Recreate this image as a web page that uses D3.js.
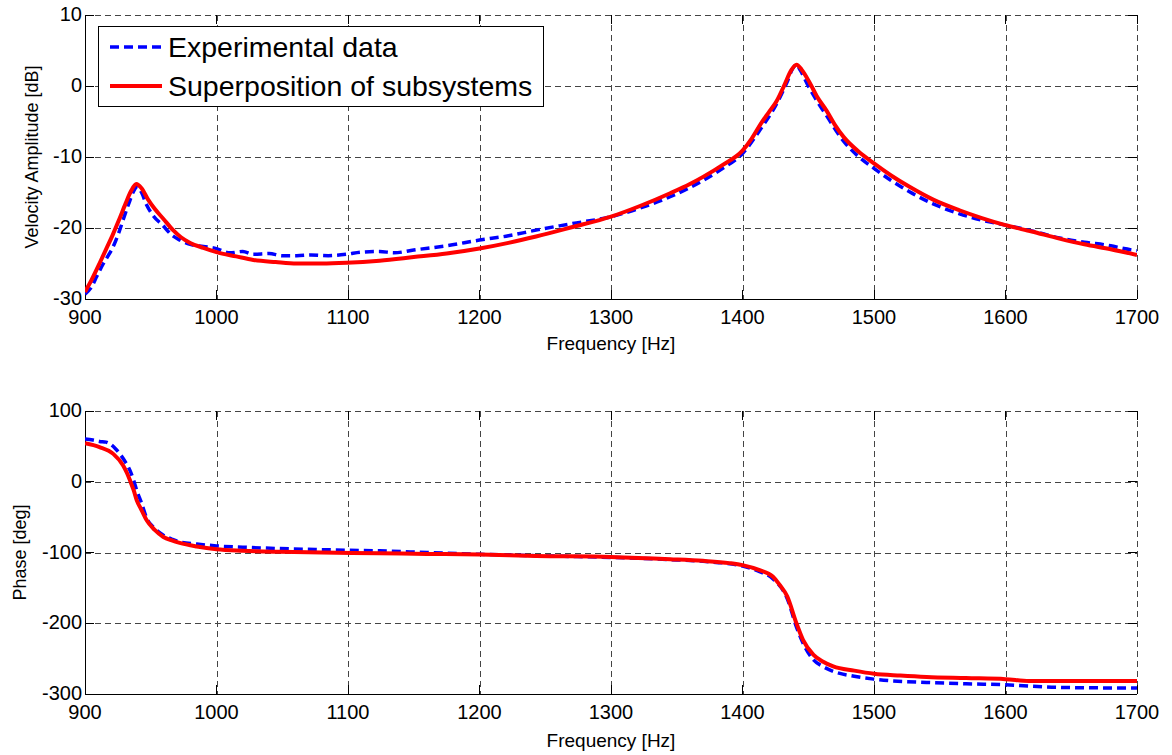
<!DOCTYPE html>
<html lang="en">
<head>
    <meta charset="UTF-8">
    <title>Velocity Amplitude and Phase</title>
    <script src="https://d3js.org/d3.v7.min.js"></script>
    <style>
        body { margin: 0; background: #fff; }
        text { font-family: "Liberation Sans", Arial, Helvetica, sans-serif; fill: #000; }
        .grid line { stroke: #444; stroke-width: 1; stroke-dasharray: 6,4; shape-rendering: crispEdges; }
        .axisline { stroke: #000; stroke-width: 1; shape-rendering: crispEdges; }
        .tick-mark { stroke: #000; stroke-width: 1; shape-rendering: crispEdges; }
        .exp { fill: none; stroke: #0000ff; stroke-width: 3.5; stroke-dasharray: 9,5; }
        .sup { fill: none; stroke: #ff0000; stroke-width: 4; }
    </style>
</head>
<body>
<div id="chart"></div>
<script>
    // ---- data ----
    const xTicks = [900, 1000, 1100, 1200, 1300, 1400, 1500, 1600, 1700];
    const ampTicks = [-30, -20, -10, 0, 10];
    const phaseTicks = [-300, -200, -100, 0, 100];

    // amplitude [dB], superposition of subsystems
    const ampSup = [
        [900, -29.0], [905, -27.3], [911, -25.0], [916, -23.0], [921, -21.0], [926, -18.8],
        [931, -16.5], [935, -14.8], [939, -13.8], [943, -14.4], [948, -16.0], [953, -17.3],
        [960, -18.8], [967, -20.3], [973, -21.3], [980, -22.1], [990, -22.8], [1000, -23.4],
        [1015, -24.0], [1028, -24.5], [1045, -24.8], [1061, -25.0], [1080, -25.0], [1099, -24.9],
        [1124, -24.6], [1150, -24.1], [1175, -23.6], [1200, -22.9], [1222, -22.1], [1243, -21.2],
        [1270, -19.9], [1300, -18.4], [1322, -16.9], [1345, -15.1], [1360, -13.8], [1370, -12.8],
        [1385, -11.1], [1400, -9.1], [1407, -7.4], [1414, -5.3], [1420, -3.7], [1426, -2.1],
        [1432, 0.2], [1437, 2.2], [1441, 3.0], [1445, 2.3], [1451, 0.5], [1457, -1.6],
        [1464, -3.5], [1470, -5.4], [1477, -7.2], [1488, -9.2], [1500, -10.9], [1513, -12.6],
        [1527, -14.2], [1545, -16.0], [1565, -17.5], [1582, -18.6], [1600, -19.6], [1620, -20.5],
        [1641, -21.5], [1660, -22.3], [1680, -23.0], [1700, -23.8]
    ];

    // amplitude [dB], experimental data
    const ampExp = [
        [900, -29.3], [905, -28.3], [909, -26.8], [914, -25.0], [918, -23.8], [922, -22.4],
        [926, -20.5], [930, -18.3], [934, -16.2], [937, -14.8], [940, -14.2], [943, -15.0],
        [947, -16.8], [952, -18.3], [959, -19.6], [966, -21.0], [972, -21.7], [980, -22.3],
        [990, -22.6], [1000, -22.9], [1010, -23.5], [1020, -23.3], [1028, -23.7], [1040, -23.6],
        [1050, -23.9], [1061, -23.9], [1072, -23.8], [1085, -23.9], [1099, -23.7], [1110, -23.4],
        [1124, -23.3], [1135, -23.5], [1150, -23.1], [1175, -22.5], [1200, -21.7], [1222, -21.1],
        [1243, -20.3], [1270, -19.4], [1300, -18.4], [1322, -17.2], [1345, -15.6], [1370, -13.3],
        [1385, -11.6], [1400, -9.5], [1414, -6.0], [1426, -2.5], [1434, 0.6], [1438, 2.4],
        [1441, 3.0], [1444, 2.2], [1450, 0.0], [1457, -2.2], [1464, -4.2], [1477, -7.8],
        [1488, -9.9], [1500, -11.6], [1513, -13.3], [1527, -14.9], [1545, -16.6], [1565, -18.0],
        [1582, -18.9], [1600, -19.6], [1620, -20.4], [1641, -21.4], [1660, -22.0], [1680, -22.5],
        [1690, -22.9], [1700, -23.2]
    ];

    // phase [deg], superposition of subsystems
    const phaseSup = [
        [900, 54.4], [911, 49], [921.5, 39.4], [929, 23], [932, 12], [934.2, 2], [937, -12],
        [939.3, -26], [943, -40], [946.9, -54.5], [953, -68], [959.6, -78], [966, -83],
        [972, -86.5], [985, -91.5], [1000, -95.4], [1020, -97.5], [1048, -99], [1080, -100],
        [1124, -101], [1160, -102], [1200, -102.8], [1243, -104.8], [1300, -106.2], [1345, -109.4],
        [1370, -111.8], [1390, -115], [1400, -117.9], [1413, -125], [1423, -134], [1428, -145],
        [1434, -162], [1441, -200], [1446, -223.5], [1454, -244.6], [1461, -254], [1469, -261],
        [1485, -267], [1500, -271.4], [1520, -274], [1540, -276], [1570, -277.5], [1600, -279],
        [1618, -281.7], [1700, -281.7]
    ];

    // phase [deg], experimental data
    const phaseExp = [
        [900, 60.5], [906, 59], [911, 57], [916, 56], [919, 53.5], [923, 47], [926.5, 39.4],
        [930, 30], [934.2, 16], [937, 2], [939.3, -12], [943, -30], [947, -52], [953, -66],
        [959.6, -75.6], [966, -81], [972, -85], [985, -88], [1000, -90.7], [1020, -92.5],
        [1048, -94.4], [1080, -96], [1124, -97.7], [1160, -100], [1200, -102.5], [1243, -104.5],
        [1300, -107], [1345, -110], [1370, -112.5], [1400, -119], [1413, -127], [1423, -137],
        [1434, -165], [1441, -205], [1446, -228], [1454, -251.7], [1461, -261], [1469, -268],
        [1485, -275], [1500, -279], [1540, -283.7], [1570, -285.5], [1600, -287], [1641, -290.7],
        [1700, -291.6]
    ];

    const W = 1172, H = 755;
    const left = 85, right = 1137;

    const svg = d3.select("#chart").append("svg")
        .attr("width", W).attr("height", H);

    const x = d3.scaleLinear().domain([900, 1700]).range([left, right]);

    function panel(id, yDomain, yRange, ticks, series, yLabel, yLabelX, xLabelY) {
        const y = d3.scaleLinear().domain(yDomain).range(yRange);
        const top = yRange[1], bottom = yRange[0];
        const g = svg.append("g");

        g.append("defs").append("clipPath").attr("id", id)
            .append("rect").attr("x", left).attr("y", top)
            .attr("width", right - left).attr("height", bottom - top);

        // dashed grid
        const grid = g.append("g").attr("class", "grid");
        grid.selectAll("line.v").data(xTicks.slice(1)).join("line")
            .attr("class", "v")
            .attr("x1", d => Math.round(x(d)) + 0.5).attr("x2", d => Math.round(x(d)) + 0.5)
            .attr("y1", top).attr("y2", bottom);
        grid.selectAll("line.h").data(ticks.slice(1)).join("line")
            .attr("class", "h")
            .attr("x1", left).attr("x2", right)
            .attr("y1", d => Math.round(y(d)) + 0.5).attr("y2", d => Math.round(y(d)) + 0.5);

        // inward tick marks
        const tl = 9;
        g.selectAll("line.xt").data(xTicks).join("line").attr("class", "tick-mark")
            .attr("x1", d => x(d)).attr("x2", d => x(d))
            .attr("y1", bottom).attr("y2", bottom - tl);
        g.selectAll("line.xt2").data(xTicks).join("line").attr("class", "tick-mark")
            .attr("x1", d => x(d)).attr("x2", d => x(d))
            .attr("y1", top).attr("y2", top + tl);
        g.selectAll("line.yt").data(ticks).join("line").attr("class", "tick-mark")
            .attr("x1", left).attr("x2", left + tl)
            .attr("y1", d => y(d)).attr("y2", d => y(d));
        g.selectAll("line.yt2").data(ticks).join("line").attr("class", "tick-mark")
            .attr("x1", right).attr("x2", right - tl)
            .attr("y1", d => y(d)).attr("y2", d => y(d));

        // left and bottom axis lines
        g.append("line").attr("class", "axisline")
            .attr("x1", left + 0.5).attr("x2", left + 0.5).attr("y1", top).attr("y2", bottom);
        g.append("line").attr("class", "axisline")
            .attr("x1", left).attr("x2", right).attr("y1", bottom + 0.5).attr("y2", bottom + 0.5);

        // tick labels
        g.selectAll("text.xl").data(xTicks).join("text")
            .attr("x", d => x(d)).attr("y", bottom + 25)
            .attr("text-anchor", "middle").attr("font-size", 20)
            .text(d => d);
        g.selectAll("text.yl").data(ticks).join("text")
            .attr("x", left - 3).attr("y", d => y(d) + 6)
            .attr("text-anchor", "end").attr("font-size", 20)
            .text(d => d);

        // curves
        const line = d3.line().x(d => x(d[0])).y(d => y(d[1])).curve(d3.curveMonotoneX);
        const curves = g.append("g").attr("clip-path", `url(#${id})`);
        curves.append("path").datum(series[0]).attr("class", "exp").attr("d", line);
        curves.append("path").datum(series[1]).attr("class", "sup").attr("d", line);

        // axis labels
        g.append("text").attr("x", (left + right) / 2).attr("y", xLabelY)
            .attr("text-anchor", "middle").attr("font-size", 19)
            .text("Frequency [Hz]");
        g.append("text")
            .attr("transform", `translate(${yLabelX},${(top + bottom) / 2}) rotate(-90)`)
            .attr("text-anchor", "middle").attr("font-size", 18)
            .text(yLabel);
    }

    panel("clipTop", [-30, 10], [299, 15], ampTicks, [ampExp, ampSup],
          "Velocity Amplitude [dB]", 38, 350);
    panel("clipBot", [-300, 100], [694, 411], phaseTicks, [phaseExp, phaseSup],
          "Phase [deg]", 26, 747);

    // legend
    const legend = svg.append("g");
    legend.append("rect").attr("x", 98.5).attr("y", 26.5).attr("width", 445).attr("height", 80)
        .attr("fill", "#fff").attr("stroke", "#000").attr("stroke-width", 1);
    const legendItems = [
        { name: "Experimental data", cls: "exp", y: 47 },
        { name: "Superposition of subsystems", cls: "sup", y: 86 }
    ];
    legendItems.forEach(d => {
        legend.append("line").attr("class", d.cls)
            .attr("x1", 110).attr("x2", 162).attr("y1", d.y).attr("y2", d.y);
        legend.append("text").attr("x", 168).attr("y", d.y + 10)
            .attr("font-size", 28.5).text(d.name);
    });
</script>
</body>
</html>
